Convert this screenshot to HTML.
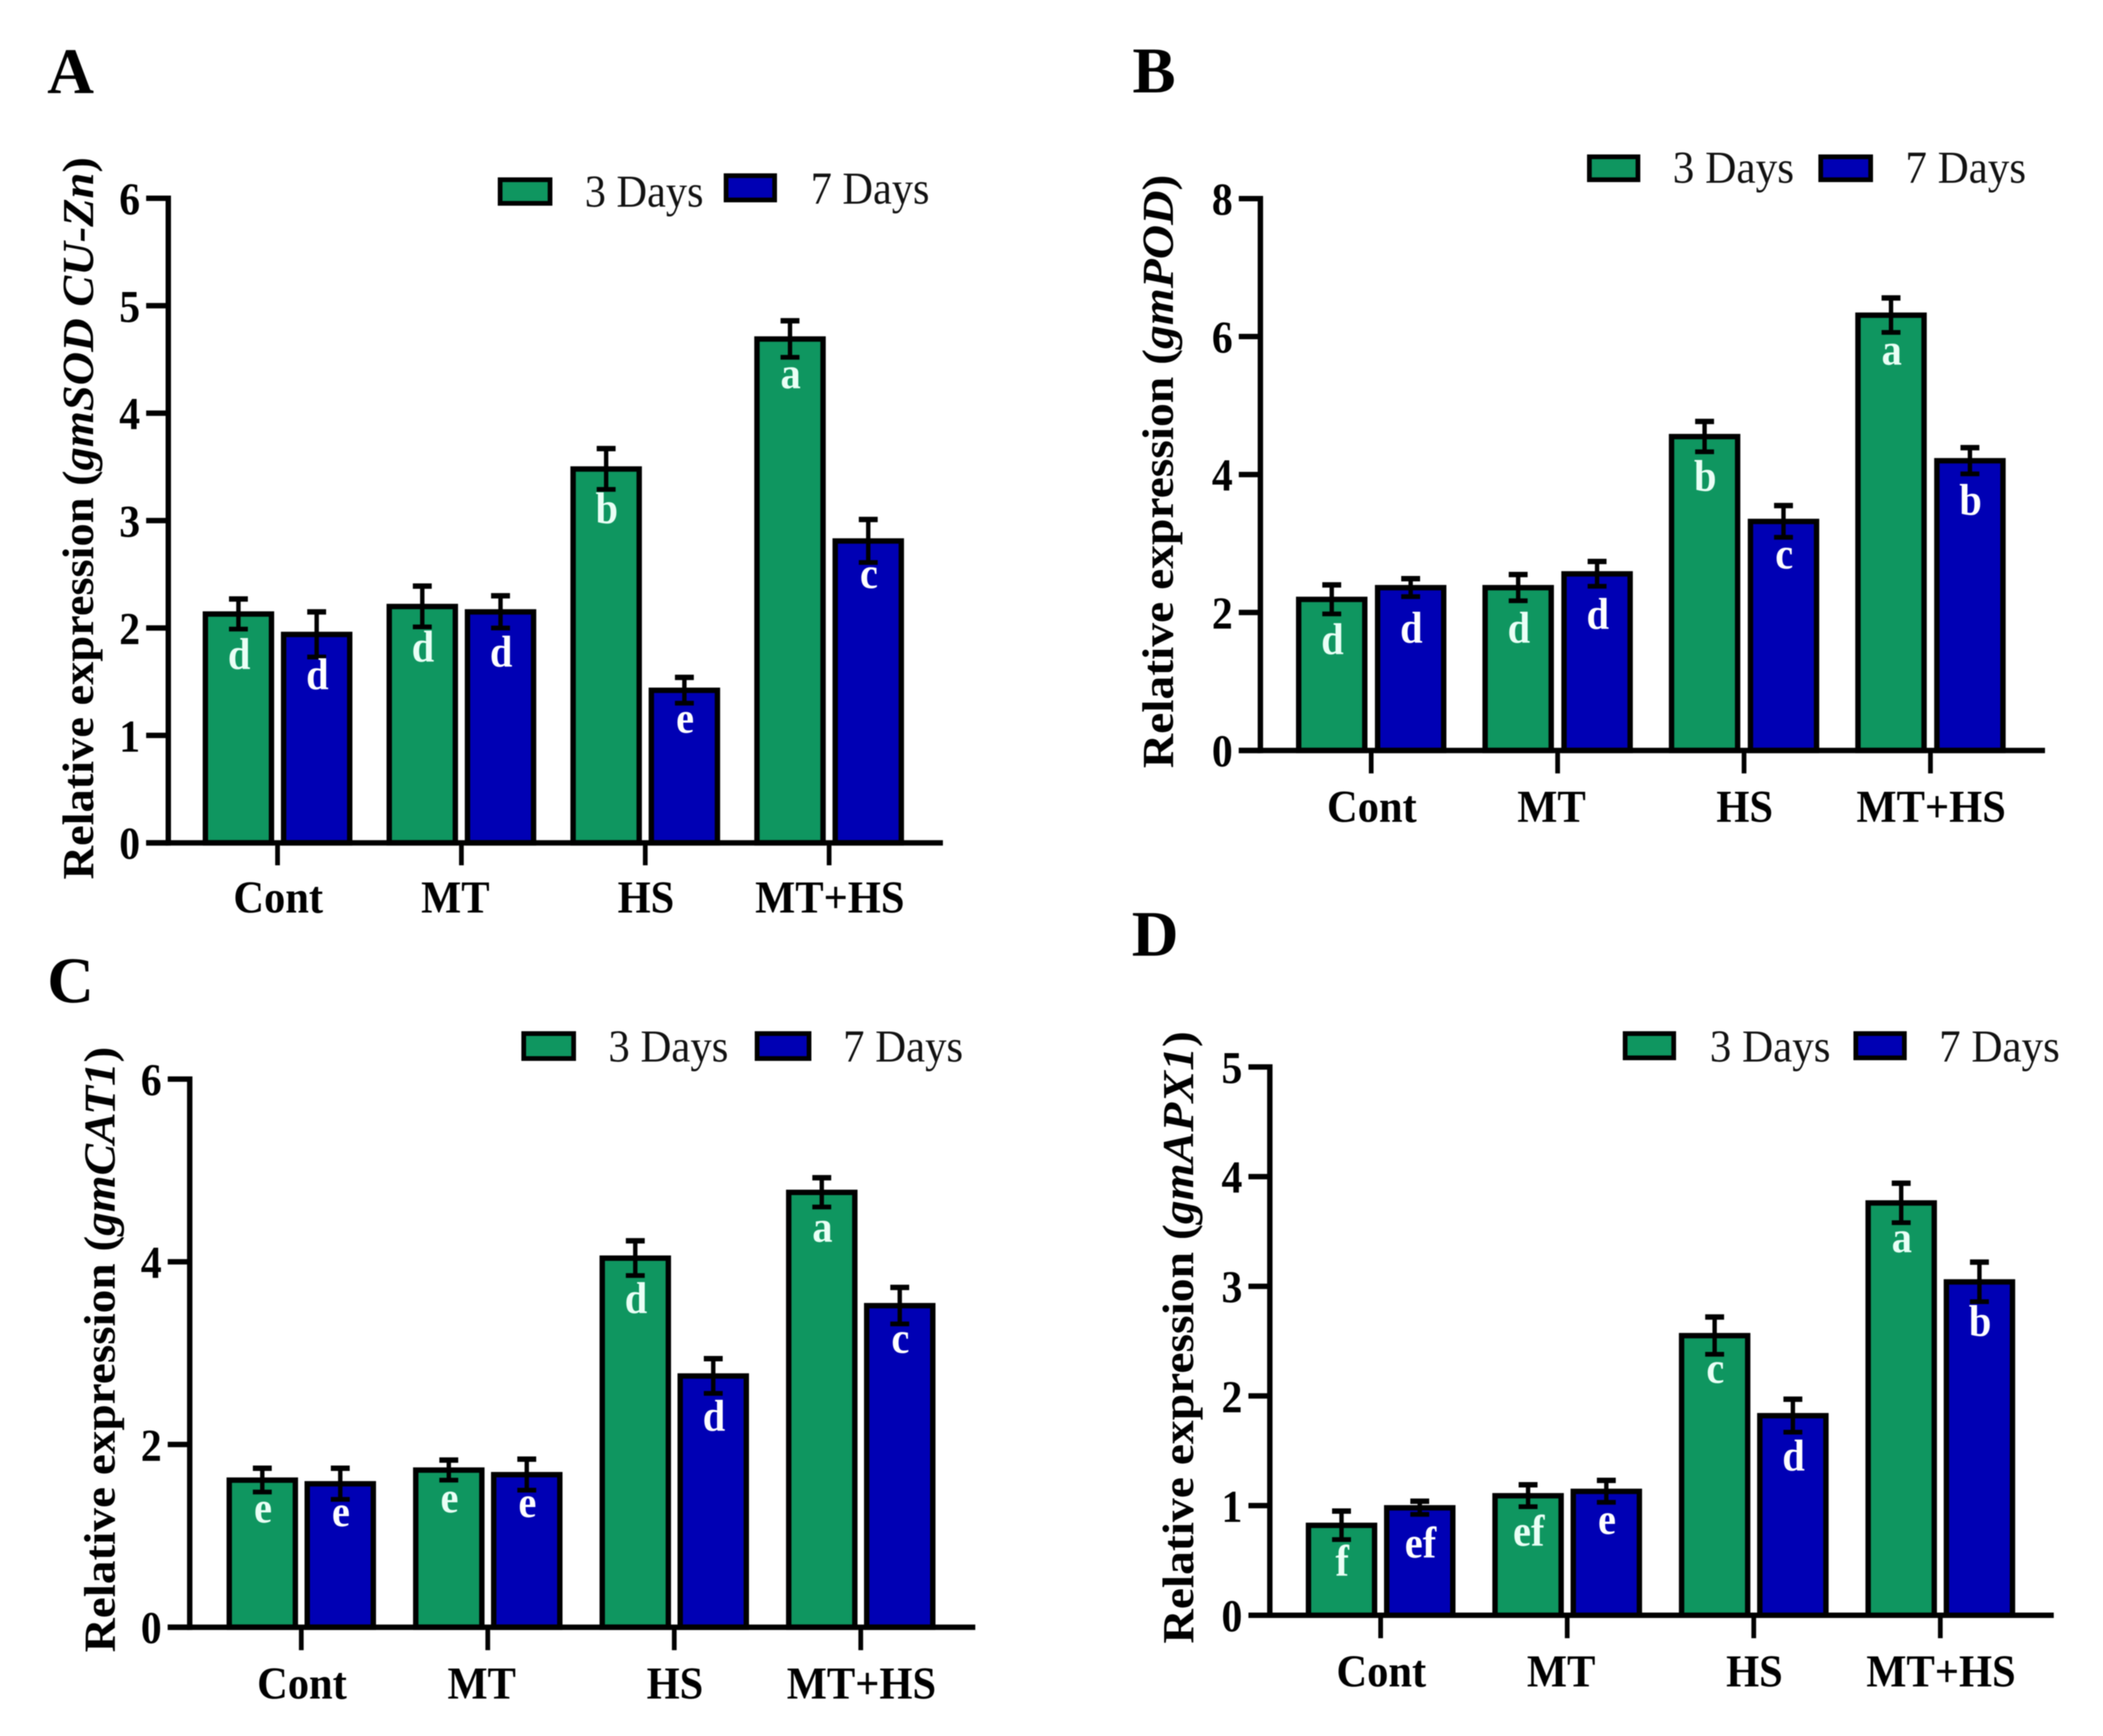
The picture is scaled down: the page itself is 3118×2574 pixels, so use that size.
<!DOCTYPE html>
<html>
<head>
<meta charset="utf-8">
<title>Relative expression of antioxidant genes</title>
<style>
html,body{margin:0;padding:0;background:#fff;}
body{width:3118px;height:2574px;overflow:hidden;}
svg{display:block;filter:blur(0.8px);}
text{font-family:"Liberation Serif","DejaVu Serif",serif;}
</style>
</head>
<body>
<svg id="figure" xmlns="http://www.w3.org/2000/svg" width="3118" height="2574" viewBox="0 0 3118 2574"></svg>
<script>
const categories = ['Cont', 'MT', 'HS', 'MT+HS'];
const seriesNames = ['3 Days', '7 Days'];

const panelATicks = [0, 1, 2, 3, 4, 5, 6];
const panelADay3 = [2.13, 2.2, 3.48, 4.69];
const panelADay7 = [1.94, 2.15, 1.42, 2.81];
const panelADay3Err = [0.14, 0.19, 0.19, 0.17];
const panelADay7Err = [0.21, 0.15, 0.12, 0.2];
const panelADay3Letters = ['d', 'd', 'b', 'a'];
const panelADay7Letters = ['d', 'd', 'e', 'c'];

const panelBTicks = [0, 2, 4, 6, 8];
const panelBDay3 = [2.19, 2.36, 4.55, 6.31];
const panelBDay7 = [2.36, 2.56, 3.32, 4.2];
const panelBDay3Err = [0.21, 0.19, 0.22, 0.25];
const panelBDay7Err = [0.13, 0.18, 0.23, 0.19];
const panelBDay3Letters = ['d', 'd', 'b', 'a'];
const panelBDay7Letters = ['d', 'd', 'c', 'b'];

const panelCTicks = [0, 2, 4, 6];
const panelCDay3 = [1.61, 1.72, 4.04, 4.76];
const panelCDay7 = [1.57, 1.67, 2.75, 3.52];
const panelCDay3Err = [0.13, 0.11, 0.19, 0.16];
const panelCDay7Err = [0.17, 0.17, 0.19, 0.2];
const panelCDay3Letters = ['e', 'e', 'd', 'a'];
const panelCDay7Letters = ['e', 'e', 'd', 'c'];

const panelDTicks = [0, 1, 2, 3, 4, 5];
const panelDDay3 = [0.82, 1.09, 2.55, 3.76];
const panelDDay7 = [0.98, 1.13, 1.82, 3.04];
const panelDDay3Err = [0.13, 0.1, 0.17, 0.18];
const panelDDay7Err = [0.06, 0.1, 0.15, 0.18];
const panelDDay3Letters = ['f', 'ef', 'c', 'a'];
const panelDDay7Letters = ['ef', 'e', 'd', 'b'];

const GREEN = '#0f9660';
const BLUE = '#0000b4';
const NS = 'http://www.w3.org/2000/svg';
const root = document.getElementById('figure');

function make(parent, tag, attrs, content) {
  const node = document.createElementNS(NS, tag);
  for (const k in attrs) node.setAttribute(k, attrs[k]);
  if (content !== undefined) node.textContent = content;
  parent.appendChild(node);
  return node;
}

function line(parent, x1, y1, x2, y2, w) {
  return make(parent, 'line', { x1: x1, y1: y1, x2: x2, y2: y2, stroke: '#000', 'stroke-width': w });
}

function stretched(x, y, sy) {
  return 'translate(' + x + ',' + y + ') scale(1,' + sy + ')';
}

function letterDrop(word) {
  if (word === 'a') return 73;
  if (word === 'b') return 80;
  if (word === 'c') return 70;
  if (word === 'd') return 81;
  if (word === 'e') return 63;
  if (word === 'f') return 75;
  return 74;
}

function drawPanel(cfg) {
  const g = make(root, 'g', {});
  
  

  const panelLabel = make(g, 'text', { x: cfg.labelX, y: cfg.labelY, 'font-size': 96, 'font-weight': 'bold', fill: '#000' }, cfg.id);
  
  

  const maxTick = cfg.ticks[cfg.ticks.length - 1];
  const yScale = function (v) { return cfg.y0 - (v / maxTick) * (cfg.y0 - cfg.yTop); };
  const xScale = function (i) { return cfg.xFirst + i * cfg.xStep; };

  const series = [
    { name: seriesNames[0], vals: cfg.day3, errs: cfg.day3Err, letters: cfg.day3Letters, color: GREEN, dx: -cfg.halfSep, key: '3-days', letterFill: '#eafff6' },
    { name: seriesNames[1], vals: cfg.day7, errs: cfg.day7Err, letters: cfg.day7Letters, color: BLUE, dx: cfg.halfSep, key: '7-days', letterFill: '#ffffff' }
  ];

  series.forEach(function (s) {
    s.vals.forEach(function (v, i) {
      const cx = xScale(i) + s.dx;
      const top = yScale(v);
      const bar = make(g, 'rect', { x: cx - 49, y: top, width: 98, height: cfg.y0 - top, fill: s.color, stroke: '#000', 'stroke-width': 8 });
      
      

      const hi = yScale(v + s.errs[i]);
      const lo = yScale(v - s.errs[i]);
      const err = make(g, 'g', {});
      
      
      line(err, cx, hi, cx, lo, 6.5);
      line(err, cx - 14, hi, cx + 14, hi, 8);
      line(err, cx - 14, lo, cx + 14, lo, 7);

      const word = s.letters[i];
      const sig = make(g, 'text', { transform: stretched(cx + 1, top + letterDrop(word), 1.1), x: 0, y: 0, 'font-size': 60, 'font-weight': 'bold', fill: s.letterFill, 'text-anchor': 'middle' }, word);
      
      
    });
  });

  const yAxis = line(g, cfg.axisX, cfg.yTop - 4, cfg.axisX, cfg.y0 + 4, 8);
  
  
  const xAxis = line(g, cfg.tickLeft, cfg.y0, cfg.axisEnd, cfg.y0, 8);
  
  

  cfg.ticks.forEach(function (t) {
    const y = yScale(t);
    const tick = line(g, cfg.tickLeft, y, cfg.axisX, y, 8);
    
    
    const lab = make(g, 'text', { transform: stretched(cfg.tickLeft - 9, y + 24, 1.1), x: 0, y: 0, 'font-size': 62, 'font-weight': 'bold', fill: '#000', 'text-anchor': 'end' }, String(t));
    
    
  });

  categories.forEach(function (c, i) {
    const x = xScale(i);
    const tick = line(g, x, cfg.y0, x, cfg.tickBottom, 7);
    
    
    const shift = c === 'MT' ? -9 : 1;
    const lab = make(g, 'text', { transform: stretched(x + shift, cfg.catY, 1.08), x: 0, y: 0, 'font-size': 63, 'font-weight': 'bold', fill: '#000', 'text-anchor': 'middle' }, c);
    
    
  });

  const title = make(g, 'text', {
    transform: 'translate(' + cfg.titleX + ',' + cfg.titleBottom + ') rotate(-90)',
    x: 0, y: 0, 'font-size': 66, 'font-weight': 'bold', fill: '#000',
    textLength: cfg.titleLength, lengthAdjust: 'spacingAndGlyphs'
  });
  
  
  make(title, 'tspan', {}, 'Relative expression (');
  make(title, 'tspan', { 'font-style': 'italic' }, cfg.gene);
  make(title, 'tspan', {}, ')');

  cfg.legend.forEach(function (item, i) {
    const lg = make(g, 'g', {});
    
    
    make(lg, 'rect', { x: item.sx + 3.5, y: item.sy + 3.5, width: item.sw - 7, height: item.sh - 7, fill: i === 0 ? GREEN : BLUE, stroke: '#000', 'stroke-width': 7 });
    make(lg, 'text', { transform: stretched(item.tx, item.ty, 1.1), x: 0, y: 0, 'font-size': 62, fill: '#111', textLength: item.tw, lengthAdjust: 'spacingAndGlyphs' }, seriesNames[i]);
  });
}

drawPanel({
  id: 'A', labelX: 70, labelY: 138, gene: 'gmSOD CU-Zn',
  ticks: panelATicks, day3: panelADay3, day7: panelADay7, day3Err: panelADay3Err, day7Err: panelADay7Err,
  day3Letters: panelADay3Letters, day7Letters: panelADay7Letters,
  axisX: 249.5, y0: 1249.7, yTop: 294, tickLeft: 216.7, axisEnd: 1398, tickBottom: 1283,
  xFirst: 411.5, xStep: 272.6, halfSep: 58, catY: 1353,
  titleX: 138, titleBottom: 1304, titleLength: 1071,
  legend: [
    { sx: 738, sy: 263, sw: 81, sh: 42, tx: 867, ty: 306.7, tw: 176 },
    { sx: 1073, sy: 257, sw: 79, sh: 43, tx: 1202, ty: 302, tw: 176 }
  ]
});

drawPanel({
  id: 'B', labelX: 1679, labelY: 137, gene: 'gmPOD',
  ticks: panelBTicks, day3: panelBDay3, day7: panelBDay7, day3Err: panelBDay3Err, day7Err: panelBDay7Err,
  day3Letters: panelBDay3Letters, day7Letters: panelBDay7Letters,
  axisX: 1868.7, y0: 1112.7, yTop: 294.5, tickLeft: 1836.7, axisEnd: 3032, tickBottom: 1146.7,
  xFirst: 2033, xStep: 276.4, halfSep: 58.5, catY: 1218.3,
  titleX: 1739, titleBottom: 1139, titleLength: 880,
  legend: [
    { sx: 2353, sy: 229, sw: 79, sh: 41, tx: 2480, ty: 271, tw: 180 },
    { sx: 2696, sy: 229, sw: 81, sh: 41, tx: 2825, ty: 271, tw: 179 }
  ]
});

drawPanel({
  id: 'C', labelX: 70, labelY: 1486, gene: 'gmCAT1',
  ticks: panelCTicks, day3: panelCDay3, day7: panelCDay7, day3Err: panelCDay3Err, day7Err: panelCDay7Err,
  day3Letters: panelCDay3Letters, day7Letters: panelCDay7Letters,
  axisX: 281.3, y0: 2412.7, yTop: 1600, tickLeft: 248.7, axisEnd: 1446, tickBottom: 2446.7,
  xFirst: 446.7, xStep: 276.5, halfSep: 57.8, catY: 2518.3,
  titleX: 170, titleBottom: 2450, titleLength: 898,
  legend: [
    { sx: 773, sy: 1529, sw: 81, sh: 44, tx: 902, ty: 1574, tw: 178 },
    { sx: 1119, sy: 1529, sw: 84, sh: 44, tx: 1250, ty: 1574, tw: 178 }
  ]
});

drawPanel({
  id: 'D', labelX: 1678, labelY: 1417, gene: 'gmAPX1',
  ticks: panelDTicks, day3: panelDDay3, day7: panelDDay7, day3Err: panelDDay3Err, day7Err: panelDDay7Err,
  day3Letters: panelDDay3Letters, day7Letters: panelDDay7Letters,
  axisX: 1882.7, y0: 2395, yTop: 1582, tickLeft: 1851, axisEnd: 3045, tickBottom: 2429,
  xFirst: 2047, xStep: 276.6, halfSep: 58, catY: 2500.7,
  titleX: 1769, titleBottom: 2437, titleLength: 908,
  legend: [
    { sx: 2406, sy: 1529, sw: 79, sh: 43, tx: 2535, ty: 1574, tw: 179 },
    { sx: 2748, sy: 1529, sw: 79, sh: 43, tx: 2875, ty: 1574, tw: 179 }
  ]
});
</script>
</body>
</html>
